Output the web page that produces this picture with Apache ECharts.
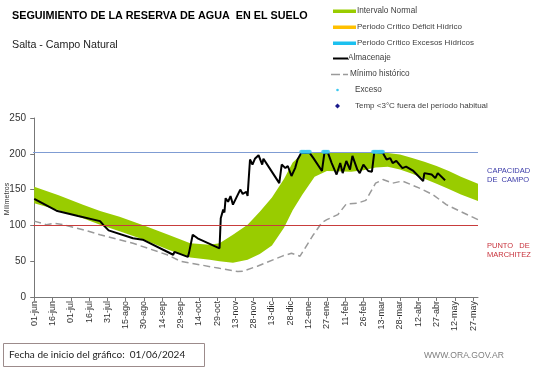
<!DOCTYPE html>
<html>
<head>
<meta charset="utf-8">
<script src="https://cdn.jsdelivr.net/npm/echarts@6/dist/echarts.min.js"></script>
<style>
html,body{margin:0;padding:0;background:#fff;}
#chart{width:541px;height:368px;}
</style>
</head>
<body>
<div id="chart"></div>
<script>
// ---- data ----
const tickLabels = ['01-jun','16-jun','01-jul','16-jul','31-jul','15-ago','30-ago','14-sep','29-sep','14-oct','29-oct','13-nov','28-nov','13-dic','28-dic','12-ene','27-ene','11-feb','26-feb','13-mar','28-mar','12-abr','27-abr','12-may','27-may'];
const tickStep = 15;

const bandDays  = [0, 20, 40, 54, 70, 90, 110, 128, 144, 152, 163, 175, 185, 195, 205, 212, 220, 230, 240, 260, 270, 280, 290, 300, 310, 320, 330, 340, 350, 364];
const bandLower = [131, 121, 110, 101, 92, 80, 66, 55, 52, 50, 48, 52, 60, 72, 97, 121, 143, 168, 176, 175, 177, 181, 182, 178, 172, 165, 158, 151, 143, 134];
const bandUpper = [154, 142, 129, 120, 112, 100, 87, 75, 73, 75, 87, 101, 119, 139, 165, 188, 200, 201, 201, 201, 201, 201, 201, 199, 194, 189, 183, 176, 168, 158];

const storageDays   = [0, 19, 36, 54, 57, 58, 61, 81, 89, 114, 115, 116, 126, 127, 130, 134, 152, 153, 155, 156, 157, 159, 161, 163, 169, 171, 174, 175, 177, 179, 181, 184, 187, 188, 193, 201, 203, 206, 208, 211, 214, 216, 219, 226, 229, 236, 238, 241, 244, 248, 251, 253, 256, 259, 261, 265, 267, 270, 274, 277, 279, 286, 289, 292, 294, 297, 302, 305, 311, 319, 320, 326, 329, 331, 337];
const storageValues = [137, 120, 113, 106, 100, 98, 93, 82, 80, 59, 63, 62, 56, 62, 87, 82, 68, 110, 122, 118, 138, 133, 141, 129, 150, 144, 147, 141, 192, 185, 193, 198, 185, 193, 180, 159, 185, 180, 183, 169, 180, 192, 201, 201, 194, 176, 201, 201, 187, 171, 187, 173, 190, 178, 197, 178, 173, 185, 176, 175, 203, 201, 192, 194, 187, 190, 180, 182, 176, 162, 173, 171, 166, 173, 163];

const minHistDays   = [0, 10, 16, 24, 40, 54, 81, 109, 120, 136, 152, 167, 171, 183, 204, 211, 218, 229, 236, 240, 249, 256, 265, 272, 280, 286, 294, 302, 316, 327, 338, 349, 364];
const minHistValues = [106, 101, 103, 101, 94, 87, 75, 59, 50, 45, 40, 35.5, 36, 43, 57.5, 61, 57, 87, 104, 108, 115, 130, 131, 135, 159, 164, 159, 162, 152, 143, 129, 120, 108];

const excessDays   = [219, 220, 221, 222, 223, 224, 225, 226, 237, 238, 239, 240, 241, 278, 279, 280, 281, 282, 283, 284, 285, 286];
const excessValues = [203, 203, 203, 203, 203, 203, 203, 203, 203, 203, 203, 203, 203, 203, 203, 203, 203, 203, 203, 203, 203, 203];

const fieldCapacity = 202;
const wiltingPoint = 100;

// ---- build ----
const zip = (a, b) => a.map((v, i) => [v, b[i]]);
const tickDays = tickLabels.map((_, i) => i * tickStep);
const bandData = bandDays.map((d, i) => [d, bandLower[i], bandUpper[i]]);

const chart = echarts.init(document.getElementById('chart'), null, {renderer: 'canvas'});
const FONT = '"Liberation Sans", Arial, sans-serif';
const legendText = '#404040';

const option = {
  backgroundColor: '#ffffff',
  animation: false,
  grid: {left: 33, right: 63, top: 118, bottom: 71, containLabel: false},
  xAxis: {
    type: 'value', min: -1, max: 364,
    splitLine: {show: false},
    axisLine: {show: true, lineStyle: {color: '#777', width: 1}},
    axisTick: {show: true, length: 4, customValues: tickDays, lineStyle: {color: '#777'}},
    axisLabel: {
      customValues: tickDays, rotate: 90, margin: 4,
      fontSize: 9, fontFamily: FONT, color: '#333',
      formatter: v => tickLabels[Math.round(v / tickStep)] || ''
    }
  },
  yAxis: {
    type: 'value', min: 0, max: 250, interval: 50,
    splitLine: {show: false},
    axisLine: {show: true, lineStyle: {color: '#777', width: 1}},
    axisTick: {show: true, length: 4, lineStyle: {color: '#777'}},
    axisLabel: {fontSize: 10, fontFamily: FONT, color: '#333', margin: 7}
  },
  series: [
    {
      type: 'custom', name: 'Intervalo Normal', clip: true, z: 1,
      data: bandData,
      renderItem: function (params, api) {
        if (params.dataIndex !== 0) return null;
        const pts = [];
        for (let i = 0; i < bandData.length; i++) pts.push(api.coord([bandData[i][0], bandData[i][2]]));
        for (let i = bandData.length - 1; i >= 0; i--) pts.push(api.coord([bandData[i][0], bandData[i][1]]));
        return {type: 'polygon', shape: {points: pts, smooth: 0}, style: {fill: '#99cc00'}};
      }
    },
    {
      type: 'line', name: 'lines', data: [], z: 2,
      markLine: {
        silent: true, symbol: 'none', label: {show: false},
        data: [
          {yAxis: fieldCapacity, lineStyle: {color: '#7f9cd3', width: 1, type: 'solid'}},
          {yAxis: wiltingPoint, lineStyle: {color: '#c83c3c', width: 1, type: 'solid'}}
        ]
      }
    },
    {
      type: 'line', name: 'Mínimo histórico', data: zip(minHistDays, minHistValues),
      showSymbol: false, symbol: 'none', z: 3,
      lineStyle: {color: '#9a9a9a', width: 1.5, type: [7, 4]}
    },
    {
      type: 'line', name: 'Almacenaje', data: zip(storageDays, storageValues),
      showSymbol: false, symbol: 'none', z: 4,
      lineStyle: {color: '#000', width: 2}
    },
    {
      type: 'scatter', name: 'Exceso', data: zip(excessDays, excessValues),
      symbol: 'circle', symbolSize: 4, z: 5,
      itemStyle: {color: '#3cc8f0'}
    }
  ],
  graphic: [
    {type: 'text', x: 12, y: 16, style: {text: 'SEGUIMIENTO DE LA RESERVA DE AGUA  EN EL SUELO', font: 'bold 10.8px ' + FONT, fill: '#000', verticalAlign: 'middle'}},
    {type: 'text', x: 12, y: 45, style: {text: 'Salta - Campo Natural', font: '10.7px ' + FONT, fill: '#222', verticalAlign: 'middle'}},
    {type: 'text', x: 7, y: 199, rotation: Math.PI / 2, style: {text: 'Milímetros', font: '7px ' + FONT, fill: '#333', align: 'center', verticalAlign: 'middle'}},
    // legend
    {type: 'rect', shape: {x: 333, y: 9.5, width: 23, height: 3.5}, style: {fill: '#99cc00'}},
    {type: 'text', x: 357, y: 11, style: {text: 'Intervalo Normal', font: '8.2px ' + FONT, fill: legendText, verticalAlign: 'middle'}},
    {type: 'rect', shape: {x: 333, y: 25.5, width: 23, height: 3.5}, style: {fill: '#ffc000'}},
    {type: 'text', x: 357, y: 27, style: {text: 'Periodo Crítico Déficit Hídrico', font: '8px ' + FONT, fill: legendText, verticalAlign: 'middle'}},
    {type: 'rect', shape: {x: 333, y: 41.5, width: 23, height: 3.5}, style: {fill: '#1cc0ef'}},
    {type: 'text', x: 357, y: 43, style: {text: 'Periodo Crítico Excesos Hídricos', font: '8px ' + FONT, fill: legendText, verticalAlign: 'middle'}},
    {type: 'line', shape: {x1: 333, y1: 58.5, x2: 348, y2: 58.5}, style: {stroke: '#000', lineWidth: 2}},
    {type: 'text', x: 348, y: 58, style: {text: 'Almacenaje', font: '8.2px ' + FONT, fill: legendText, verticalAlign: 'middle'}},
    {type: 'line', shape: {x1: 331, y1: 74.5, x2: 340, y2: 74.5}, style: {stroke: '#9a9a9a', lineWidth: 1.5}},
    {type: 'line', shape: {x1: 343, y1: 74.5, x2: 348, y2: 74.5}, style: {stroke: '#9a9a9a', lineWidth: 1.5}},
    {type: 'text', x: 350, y: 74, style: {text: 'Mínimo histórico', font: '8.2px ' + FONT, fill: legendText, verticalAlign: 'middle'}},
    {type: 'circle', shape: {cx: 337.5, cy: 90, r: 1.3}, style: {fill: '#3cc8f0'}},
    {type: 'text', x: 355, y: 90, style: {text: 'Exceso', font: '8.2px ' + FONT, fill: legendText, verticalAlign: 'middle'}},
    {type: 'polygon', shape: {points: [[337.5, 103.5], [340, 106], [337.5, 108.5], [335, 106]]}, style: {fill: '#1a1a8c'}},
    {type: 'text', x: 355, y: 106, style: {text: 'Temp <3°C fuera del período habitual', font: '8px ' + FONT, fill: legendText, verticalAlign: 'middle'}},
    // right labels
    {type: 'text', x: 487, y: 166, style: {text: 'CAPACIDAD\nDE  CAMPO', font: '7.5px ' + FONT, lineHeight: 9, fill: '#3a3aa8', verticalAlign: 'top'}},
    {type: 'text', x: 487, y: 241, style: {text: 'PUNTO   DE\nMARCHITEZ', font: '7.5px ' + FONT, lineHeight: 9, fill: '#c8323c', verticalAlign: 'top'}},
    // footer
    {type: 'rect', shape: {x: 3.5, y: 343.5, width: 201, height: 23}, style: {fill: 'none', stroke: '#9c8b8b', lineWidth: 1}},
    {type: 'text', x: 9, y: 355, style: {text: 'Fecha de inicio del gráfico:  01/06/2024', font: '10px Lato, "Liberation Sans", sans-serif', fill: '#222', verticalAlign: 'middle'}},
    {type: 'text', x: 424, y: 356, style: {text: 'WWW.ORA.GOV.AR', font: '8.6px ' + FONT, fill: '#7f7f7f', verticalAlign: 'middle'}}
  ]
};
chart.setOption(option);
</script>
</body>
</html>
